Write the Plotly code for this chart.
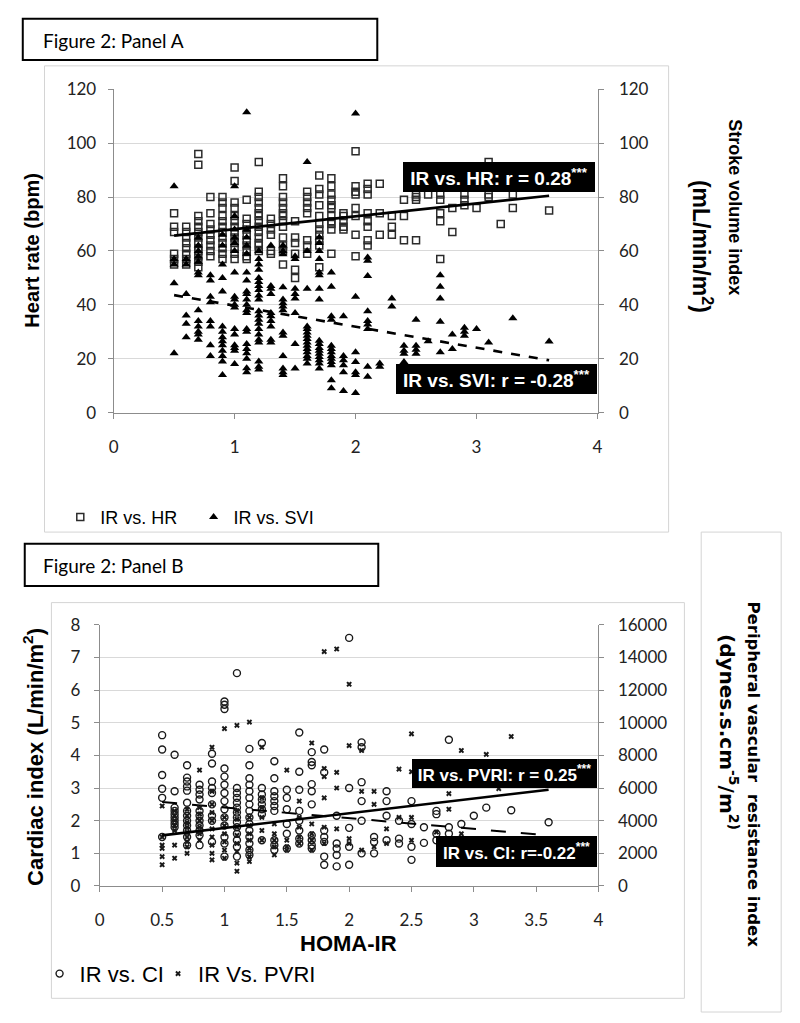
import plotly.graph_objects as go

# ---------------- DATA ----------------
# Panel A: HOMA-IR vs heart rate (squares) and stroke volume index (triangles)
hr_levels = [0.5, 0.6, 0.7, 0.8, 0.9, 1.0, 1.1, 1.2, 1.3, 1.4, 1.5, 1.6, 1.7, 1.8, 1.9,
             2.0, 2.1, 2.2, 2.3, 2.4, 2.5, 2.6, 2.7, 2.8, 2.9, 3.0, 3.1, 3.2, 3.3, 3.6]
hr_values = [
    [74, 69, 67, 59, 57, 55],
    [69, 67, 65, 63, 61, 59, 57, 55],
    [96, 92, 73, 71, 69, 67, 65, 63, 61, 60, 58, 56, 54],
    [80, 74, 70, 68, 66, 64, 62, 60, 58],
    [80, 78, 76, 73, 71, 69, 67, 65, 63, 61, 59, 57],
    [91, 86, 78, 76, 73, 71, 69, 67, 65, 63, 61, 59, 57],
    [79, 72, 70, 68, 66, 64, 62, 60, 58, 57],
    [93, 82, 80, 78, 76, 74, 73, 71, 69, 67, 65, 63, 62, 60],
    [72, 70, 68, 66, 60, 59],
    [87, 84, 80, 78, 76, 74, 73, 71, 69, 65, 62, 60, 55],
    [71, 65, 63, 59, 53, 50],
    [82, 80, 78, 76, 74, 64, 62, 59],
    [88, 83, 81, 77, 73, 70, 68, 66, 64, 62, 54],
    [87, 84, 81, 79, 77, 76, 73, 71, 70, 68, 59],
    [74, 73, 71, 69, 68],
    [97, 84, 82, 81, 76, 73, 66, 58],
    [85, 83, 81, 74, 71, 69, 64, 62],
    [85, 74, 66],
    [73, 69, 66],
    [79, 73, 64],
    [81, 80, 79, 64],
    [81],
    [81, 79, 74, 71, 57],
    [76, 67],
    [81, 79, 77],
    [76],
    [93, 81, 80],
    [70],
    [81, 76],
    [75],
]
svi_levels = [0.5, 0.6, 0.7, 0.8, 0.9, 1.0, 1.1, 1.2, 1.3, 1.4, 1.5, 1.6, 1.7, 1.8, 1.9,
              2.0, 2.1, 2.2, 2.3, 2.4, 2.5, 2.6, 2.7, 2.8, 2.9, 3.0, 3.1, 3.3, 3.6]
svi_values = [
    [84, 57, 55, 48, 22],
    [57, 55, 44, 36, 33, 28],
    [65, 62, 60, 58, 56, 52, 51, 38, 34, 32, 30, 29, 27],
    [51, 49, 43, 41, 34, 32, 25, 21],
    [66, 62, 55, 50, 45, 32, 30, 28, 26.5, 25, 23, 21, 19, 14],
    [84, 73, 68, 65, 63, 60, 52, 43, 42, 40, 39, 31, 29, 25, 24, 23, 18],
    [111.5, 68, 65, 62, 59, 52, 49, 45, 44, 42, 40, 38, 37, 31, 30, 25.5, 23.6, 22, 20, 16.5, 15],
    [60, 57, 55, 53, 50, 48.5, 47, 45.5, 43.5, 42, 37.6, 36, 34.5, 33, 31, 29, 27, 26, 19, 17, 16],
    [62, 47, 46, 44, 37, 35.8, 34, 32, 27, 26],
    [62, 60, 58.8, 46.5, 42, 40.6, 39.4, 38, 29.7, 28.5, 21, 16.4, 15, 14],
    [58, 57, 46, 44, 42.4, 37, 25.5, 16.4],
    [93, 60, 46, 32, 31, 29.7, 28.5, 27.3, 26, 24.8, 23.6, 22.4, 21, 20, 18.2],
    [65, 63, 60, 57, 52, 51, 46, 42, 26.7, 25.5, 24, 23, 21.8, 20.6, 19.4, 18.2, 16.4],
    [52, 46.7, 35.8, 34.5, 24.8, 23.6, 22.4, 21, 20, 18.8, 17.6, 12, 9],
    [35.8, 21, 19.4, 17.6, 15, 8],
    [111, 43, 22.4, 18.8, 15, 14, 7.3],
    [57.6, 56.4, 50.7, 37.6, 34, 32.7, 31, 17, 13.3],
    [18.2, 17],
    [42.4, 39.4],
    [24.8, 23, 21.8, 18.8],
    [34.5, 24.8, 23.3, 21.8],
    [26.5],
    [51, 46.7, 42.4, 33.7, 22.4],
    [29, 23.6],
    [31.5, 30, 28.5],
    [31],
    [26],
    [35],
    [26.4],
]
trend_x = [0.5, 3.6]
hr_trend = [65.7, 80.5]
svi_trend = [43.6, 19.4]

# Panel B: HOMA-IR vs cardiac index (circles) and PVRI (crosses)
ci_levels = [0.5, 0.6, 0.7, 0.8, 0.9, 1.0, 1.1, 1.2, 1.3, 1.4, 1.5, 1.6, 1.7, 1.8, 1.9,
             2.0, 2.1, 2.2, 2.3, 2.4, 2.5, 2.6, 2.7, 2.8, 2.9, 3.0, 3.1, 3.3, 3.6]
ci_values = [
    [4.62, 4.18, 3.4, 2.98, 2.7, 1.5],
    [4.02, 2.9, 2.4, 2.3, 2.2, 2.1, 2.0, 1.9, 1.8],
    [3.7, 3.32, 3.2, 3.05, 2.92, 2.55, 2.3, 2.15, 2.0, 1.85, 1.7, 1.5, 1.25],
    [3.1, 2.95, 2.8, 2.65, 2.3, 2.15, 2.0, 1.85, 1.7, 1.55, 1.25],
    [4.05, 3.75, 3.2, 3.0, 2.85, 2.5, 2.15, 2.0, 1.35],
    [5.65, 5.55, 5.42, 3.6, 3.35, 3.1, 2.85, 2.6, 2.35, 2.1, 1.85, 1.5, 1.3, 0.9],
    [6.52, 3.0, 2.85, 2.7, 2.55, 2.4, 2.25, 2.1, 1.95, 1.8, 1.6, 1.4, 1.2, 0.9],
    [4.2, 3.7, 3.3, 3.1, 2.9, 2.7, 2.5, 2.3, 2.1, 1.9, 1.7, 1.5, 1.3, 1.1, 0.95],
    [4.38, 3.0, 2.8, 2.65, 2.5, 2.35, 2.2, 1.4],
    [3.82, 3.3, 2.9, 2.75, 2.6, 2.45, 2.3, 1.4, 1.25, 1.1],
    [2.95, 2.7, 2.35, 1.9, 1.6, 1.15],
    [4.7, 3.5, 2.95, 2.3, 2.0, 1.7, 1.45, 1.3],
    [4.1, 3.8, 3.7, 3.12, 2.9, 2.5, 1.55, 1.4, 1.25, 1.15],
    [4.18, 3.48, 1.7, 1.5, 1.35, 0.9, 0.65],
    [2.15, 1.3, 1.15, 0.95, 0.6],
    [7.6, 3.0, 1.78, 1.2, 0.65],
    [4.4, 4.25, 3.18, 2.6, 2.0, 1.0],
    [1.5, 1.35, 1.0],
    [2.9, 2.6, 2.15, 1.4],
    [2.0, 1.45, 1.3],
    [2.6, 1.9, 1.2, 0.8],
    [1.8, 1.32],
    [2.3, 2.2, 1.6, 1.4],
    [4.48, 1.8, 1.6],
    [1.9],
    [2.15],
    [2.4],
    [2.32],
    [1.95],
]
pvri_levels = [0.5, 0.6, 0.7, 0.8, 0.9, 1.0, 1.1, 1.2, 1.3, 1.4, 1.5, 1.6, 1.7, 1.8, 1.9,
               2.0, 2.1, 2.2, 2.3, 2.4, 2.5, 2.7, 2.8, 2.9, 3.1, 3.2, 3.3]
pvri_values = [
    [4900, 3000, 2500, 2300, 1800, 1300],
    [4600, 4300, 4000, 3700, 3400, 2500, 1700],
    [4700, 4300, 3900, 3600, 3300, 3000, 2700, 2400, 2000],
    [7100, 4800, 4400, 4000, 3600, 3200, 2800],
    [8500, 5800, 5000, 4500, 4000, 3500, 3000, 2500, 2000, 1600],
    [9640, 4200, 3700, 3200, 2700, 2200, 1700],
    [9840, 4600, 4100, 3600, 3100, 2600, 2100, 1400, 900],
    [10040, 4200, 3700, 3200, 2800, 2300, 1800, 1500],
    [8500, 5400, 4800, 4200, 3400, 2800],
    [3800, 3200, 2800, 2400, 1900],
    [7100, 2800, 2400, 2200],
    [5200, 4200, 3600, 3000, 2600],
    [8760, 3800, 3200, 2800, 2200],
    [14360, 7200, 6700, 5400, 3600, 2600],
    [14520, 6960, 6000, 3500],
    [12360, 8600, 2900, 2600],
    [8300, 5800, 2200],
    [5800, 5000, 2400],
    [3500, 2600],
    [7160, 4200],
    [9320, 7000, 4200, 2800],
    [3300],
    [5660, 4700],
    [8300, 3200],
    [8060],
    [5960],
    [9160],
]
ci_trend = [2.57, 1.55]
pvri_trend = [3100, 5900]

# tick values
a_x_ticks = [0, 1, 2, 3, 4]
a_y_ticks = [0, 20, 40, 60, 80, 100, 120]
b_x_ticks = [0, 0.5, 1, 1.5, 2, 2.5, 3, 3.5, 4]
b_y_ticks = [0, 1, 2, 3, 4, 5, 6, 7, 8]
b_y2_ticks = [0, 2000, 4000, 6000, 8000, 10000, 12000, 14000, 16000]


def flatten(levels, values):
    xs, ys = [], []
    for lv, vals in zip(levels, values):
        for v in vals:
            xs.append(lv)
            ys.append(v)
    return xs, ys


hr_x, hr_y = flatten(hr_levels, hr_values)
svi_x, svi_y = flatten(svi_levels, svi_values)
ci_x, ci_y = flatten(ci_levels, ci_values)
pv_x, pv_y = flatten(pvri_levels, pvri_values)

# ---------------- LAYOUT HELPERS ----------------
W, H = 800, 1023


def fx(p):
    return p / W


def fy(p):
    return 1 - p / H


TICKFONT = dict(family="Lato, Open Sans, sans-serif", size=17, color="#222222")
AXCOL = "#8c8c8c"
GRID = "#d9d9d9"
ARIAL = "Liberation Sans, Arial, sans-serif"

fig = go.Figure()

# Panel A
fig.add_trace(go.Scatter(x=hr_x, y=hr_y, mode="markers", name="IR vs. HR",
                         xaxis="x", yaxis="y", legend="legend",
                         marker=dict(symbol="square-open", size=7, color="#2b2b2b",
                                     line=dict(width=1.5, color="#2b2b2b"))))
fig.add_trace(go.Scatter(x=svi_x, y=svi_y, mode="markers", name="IR vs. SVI",
                         xaxis="x", yaxis="y2", legend="legend2",
                         marker=dict(symbol="triangle-up", size=8, color="black")))
fig.add_trace(go.Scatter(x=trend_x, y=hr_trend, mode="lines", showlegend=False,
                         xaxis="x", yaxis="y", line=dict(color="black", width=2.6)))
fig.add_trace(go.Scatter(x=trend_x, y=svi_trend, mode="lines", showlegend=False,
                         xaxis="x", yaxis="y2",
                         line=dict(color="black", width=2.6, dash="dash")))

# Panel B
fig.add_trace(go.Scatter(x=ci_x, y=ci_y, mode="markers", name="IR vs. CI",
                         xaxis="x2", yaxis="y3", legend="legend3",
                         marker=dict(symbol="circle-open", size=7, color="#1a1a1a",
                                     line=dict(width=1.4, color="#1a1a1a"))))
fig.add_trace(go.Scatter(x=pv_x, y=pv_y, mode="markers", name="IR Vs. PVRI",
                         xaxis="x2", yaxis="y4", legend="legend4",
                         marker=dict(symbol="x", size=5, color="#1a1a1a",
                                     line=dict(width=0))))
fig.add_trace(go.Scatter(x=trend_x, y=ci_trend, mode="lines", showlegend=False,
                         xaxis="x2", yaxis="y3",
                         line=dict(color="black", width=2, dash="longdash")))
fig.add_trace(go.Scatter(x=trend_x, y=pvri_trend, mode="lines", showlegend=False,
                         xaxis="x2", yaxis="y4", line=dict(color="black", width=2.6)))

axis_common = dict(showline=True, linecolor=AXCOL, linewidth=1, ticks="outside",
                   ticklen=5, tickcolor=AXCOL, tickfont=TICKFONT, zeroline=False)


def legend_at(x_text, y, size):
    return dict(orientation="h", x=fx(x_text - 38), xanchor="left", y=fy(y),
                yanchor="middle", font=dict(family=ARIAL, size=size, color="black"),
                bgcolor="rgba(0,0,0,0)", itemsizing="trace", itemwidth=30,
                tracegroupgap=0, borderwidth=0)


fig.update_layout(
    width=W, height=H, margin=dict(l=0, r=0, t=0, b=0),
    paper_bgcolor="white", plot_bgcolor="white",
    xaxis=dict(domain=[fx(110), fx(600)], range=[0, 4], tickvals=a_x_ticks,
               anchor="y", showgrid=False, ticklabelstandoff=14, **axis_common),
    yaxis=dict(domain=[fy(410), fy(80)], range=[0, 120], tickvals=a_y_ticks,
               anchor="x", showgrid=True, gridcolor=GRID, ticklabelstandoff=8,
               **axis_common),
    yaxis2=dict(overlaying="y", side="right", range=[0, 120], tickvals=a_y_ticks,
                anchor="x", showgrid=False, ticklabelstandoff=12, **axis_common),
    xaxis2=dict(domain=[fx(96), fx(601)], range=[0, 4], tickvals=b_x_ticks,
                anchor="y3", showgrid=False, ticklabelstandoff=14, **axis_common),
    yaxis3=dict(domain=[fy(893.3), fy(626.7)], range=[0, 8], tickvals=b_y_ticks,
                anchor="x2", showgrid=True, gridcolor=GRID, ticklabelstandoff=10,
                **axis_common),
    yaxis4=dict(overlaying="y3", side="right", range=[0, 16000], tickvals=b_y2_ticks,
                tickformat="d", anchor="x2", showgrid=False, ticklabelstandoff=10,
                **axis_common),
    legend=legend_at(94, 517, 18),
    legend2=legend_at(229, 517, 18),
    legend3=legend_at(73, 983, 22),
    legend4=legend_at(193, 983, 22),
)

# frames / boxes
shapes = [
    dict(x0=18, x1=377, y0=8, y1=50, lw=2, col="black"),
    dict(x0=40, x1=672, y0=56, y1=532, lw=1, col="#d4d4d4"),
    dict(x0=20, x1=378, y0=544, y1=587, lw=2, col="black"),
    dict(x0=47, x1=688, y0=604, y1=1008, lw=1, col="#d4d4d4"),
    dict(x0=705, x1=786, y0=532, y1=1022, lw=1, col="#d4d4d4"),
]
for s in shapes:
    fig.add_shape(type="rect", xref="paper", yref="paper",
                  x0=fx(s["x0"]), x1=fx(s["x1"]), y0=fy(s["y1"]), y1=fy(s["y0"]),
                  line=dict(color=s["col"], width=s["lw"]), fillcolor="rgba(0,0,0,0)",
                  layer="below")


def ann(text, x, y, size, family=ARIAL, angle=0, xanchor="center", color="black", **kw):
    fig.add_annotation(text=text, x=fx(x), y=fy(y), xref="paper", yref="paper",
                       showarrow=False, textangle=angle, xanchor=xanchor,
                       yanchor="middle", font=dict(family=family, size=size, color=color),
                       **kw)


ann("Figure 2: Panel A", 36, 30, 19, family="Lato, sans-serif", xanchor="left")
ann("Figure 2: Panel B", 36, 566, 19, family="Lato, sans-serif", xanchor="left")

ann("<b>Heart rate (bpm)</b>", 27, 245, 20, angle=-90)
ann("<b>Stroke volume index</b>", 739, 200, 18, angle=90)
ann("<b>(mL/min/m<sup>2</sup>)</b>", 706, 240, 23, angle=90)

ann("<b>Cardiac index (L/min/m<sup>2</sup>)</b>", 29, 762, 22, angle=-90)
ann("<b>HOMA-IR</b>", 348, 952, 22)
ann("<b>Peripheral vascular  resistance index</b>", 758, 779, 16.5,
    family="DejaVu Sans, sans-serif", angle=90)
ann("<b>(dynes.s.cm<sup>-5</sup>/m<sup>2)</sup></b>", 733, 736, 20,
    family="DejaVu Sans, sans-serif", angle=90)

# black r-value boxes
boxes = [
    ("IR vs. HR: r = 0.28<sup>***</sup>", 404, 596, 154, 184, 19),
    ("IR vs. SVI: r = -0.28<sup>***</sup>", 397, 598, 361, 391, 19),
    ("IR vs. PVRI: r = 0.25<sup>***</sup>", 413, 598, 764, 793, 17),
    ("IR vs. CI: r=-0.22<sup>***</sup>", 437, 598, 843, 874, 17),
]
for txt, x0, x1, y0, y1, sz in boxes:
    fig.add_annotation(text="<b>" + txt + "</b>", x=fx((x0 + x1) / 2), y=fy((y0 + y1) / 2),
                       xref="paper", yref="paper", showarrow=False,
                       xanchor="center", yanchor="middle",
                       width=x1 - x0 - 4, height=y1 - y0 - 4, bgcolor="black",
                       bordercolor="black", borderwidth=1, borderpad=1,
                       font=dict(family=ARIAL, size=sz, color="white"))

fig.write_html("out.html", config={"displayModeBar": False},
               post_script="document.body.style.margin='0px';"
                           "document.body.style.overflow='hidden';")
